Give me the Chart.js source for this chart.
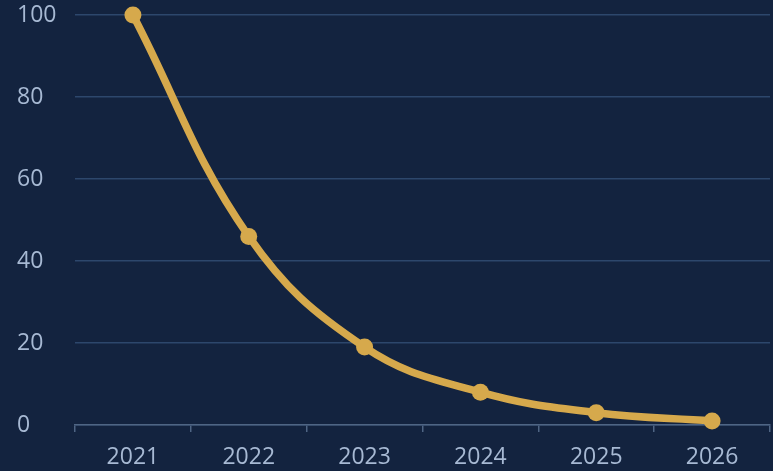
<!DOCTYPE html>
<html>
<head>
<meta charset="utf-8">
<script src="https://cdn.jsdelivr.net/npm/chart.js@4/dist/chart.umd.min.js"></script>
<style>
  html, body { margin: 0; padding: 0; background: #13233F; }
  #wrap { width: 773px; height: 471px; }
</style>
</head>
<body>
<div id="wrap"><canvas id="declineChart"></canvas></div>
<script>
// Chart data
const years = ['2021', '2022', '2023', '2024', '2025', '2026'];
const values = [100, 46, 19, 8, 3, 1];
const yTicks = [0, 20, 40, 60, 80, 100];

const gold = '#D6A94C';
const labelColor = '#A7B9D3';

new Chart(document.getElementById('declineChart'), {
    type: 'line',
    data: {
        labels: years,
        datasets: [{
            data: values,
            borderColor: gold,
            backgroundColor: gold,
            borderWidth: 7.5,
            pointRadius: 8.5,
            pointHoverRadius: 8.5,
            pointBackgroundColor: gold,
            pointBorderWidth: 0,
            tension: 0.4,
            fill: false,
            clip: false
        }]
    },
    options: {
        responsive: true,
        maintainAspectRatio: false,
        animation: false,
        layout: {
            autoPadding: false,
            padding: { left: 17, right: 3, top: 15, bottom: 0 }
        },
        plugins: {
            legend: { display: false },
            tooltip: { enabled: false }
        },
        scales: {
            x: {
                offset: true,
                grid: {
                    offset: true,
                    drawOnChartArea: false,
                    drawTicks: true,
                    tickLength: 7,
                    color: '#4F6584',
                    lineWidth: 1.5
                },
                border: { color: '#4F6584', width: 1.5 },
                ticks: {
                    color: labelColor,
                    font: { family: 'Open Sans', size: 23 },
                    padding: 12
                },
                afterFit: function(axis) {
                    axis.height = 46;
                    axis.paddingLeft = 0;
                    axis.paddingRight = 0;
                }
            },
            y: {
                min: 0,
                max: 100,
                afterBuildTicks: function(axis) {
                    axis.ticks = yTicks.map(v => ({ value: v }));
                },
                grid: {
                    color: '#2D476C',
                    lineWidth: 1.5,
                    drawTicks: false
                },
                border: { display: false },
                ticks: {
                    color: labelColor,
                    font: { family: 'Open Sans', size: 23 },
                    crossAlign: 'far',
                    padding: 10
                },
                afterFit: function(axis) {
                    axis.width = 58;
                    axis.paddingTop = 0;
                    axis.paddingBottom = 0;
                }
            }
        }
    },
    plugins: [{
        id: 'bg',
        beforeDraw(chart) {
            const ctx = chart.ctx;
            ctx.save();
            ctx.fillStyle = '#13233F';
            ctx.fillRect(0, 0, chart.width, chart.height);
            ctx.restore();
        }
    }]
});
</script>
</body>
</html>
